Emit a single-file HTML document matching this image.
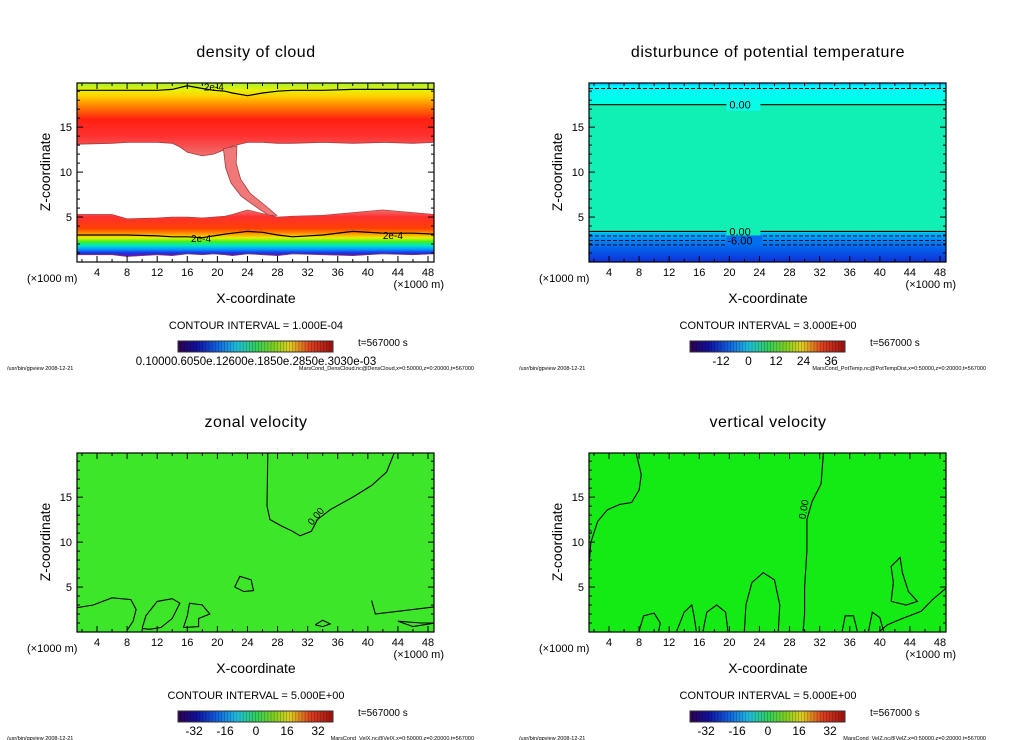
<!DOCTYPE html>
<html><head><meta charset="utf-8"><style>
html,body{margin:0;padding:0;background:#fff;width:1024px;height:740px;overflow:hidden}
svg{display:block}
text{font-family:"Liberation Sans",sans-serif;fill:#000}
</style></head><body>
<svg id="fig" width="1024" height="740" viewBox="0 0 1024 740">
<defs>
<linearGradient id="gCloud" x1="0" y1="0" x2="0" y2="1">
<stop offset="0" stop-color="#a8f030"/><stop offset="0.1" stop-color="#e8f000"/><stop offset="0.18" stop-color="#ffd000"/>
<stop offset="0.32" stop-color="#ff8000"/><stop offset="0.5" stop-color="#ff2010"/><stop offset="0.72" stop-color="#ff3030"/>
<stop offset="1" stop-color="#f07070"/></linearGradient>
<linearGradient id="gCloudLow" x1="0" y1="0" x2="0" y2="1">
<stop offset="0" stop-color="#f07070"/><stop offset="0.15" stop-color="#ff3030"/><stop offset="0.4" stop-color="#ff4000"/>
<stop offset="0.52" stop-color="#ffa000"/><stop offset="0.6" stop-color="#e8f000"/><stop offset="0.68" stop-color="#40f020"/>
<stop offset="0.76" stop-color="#00e8c0"/><stop offset="0.84" stop-color="#00a0ff"/><stop offset="0.92" stop-color="#2030e0"/>
<stop offset="1" stop-color="#6010c0"/></linearGradient>
<linearGradient id="gRain" x1="0" y1="0" x2="1" y2="0">
<stop offset="0" stop-color="#300050"/><stop offset="0.12" stop-color="#1010a0"/><stop offset="0.25" stop-color="#1060e0"/>
<stop offset="0.38" stop-color="#20c0e0"/><stop offset="0.5" stop-color="#30d060"/><stop offset="0.62" stop-color="#80d020"/>
<stop offset="0.72" stop-color="#e0d020"/><stop offset="0.85" stop-color="#e04020"/><stop offset="1" stop-color="#a01010"/></linearGradient>
<linearGradient id="gTempLow" x1="0" y1="0" x2="0" y2="1">
<stop offset="0" stop-color="#00b8ff"/><stop offset="0.4" stop-color="#0070f0"/><stop offset="1" stop-color="#1030d8"/></linearGradient>
<linearGradient id="gTempTop" x1="0" y1="0" x2="0" y2="1">
<stop offset="0" stop-color="#00b0ff"/><stop offset="0.15" stop-color="#00f8ff"/><stop offset="1" stop-color="#00ffe0"/></linearGradient>
</defs>
</svg>
<script>
// ===== data =====
const xTicks=[4,8,12,16,20,24,28,32,36,40,44,48];
const zTicks=[5,10,15];
const titles=["density of cloud","disturbunce of potential temperature","zonal velocity","vertical velocity"];
const intervals=["1.000E-04","3.000E+00","5.000E+00","5.000E+00"];
const cbarLabels1=["0.10000.6050e.12600e.1850e.2850e.3030e-03"];
const cbarLabels2=["-12","0","12","24","36"];
const cbarLabels3=["-32","-16","0","16","32"];
const footers=["MarsCond_DensCloud.nc@DensCloud,x=0:50000,z=0:20000,t=567000","MarsCond_PotTemp.nc@PotTempDist,x=0:50000,z=0:20000,t=567000","MarsCond_VelX.nc@VelX,x=0:50000,z=0:20000,t=567000","MarsCond_VelZ.nc@VelZ,x=0:50000,z=0:20000,t=567000"];
// cloud layer boundaries (z, km) along x
const cloudX=[1.3,6,8,12,14,15,16,18,19.5,21,22,24,26,28,30,34,38,42,46,48.8];
const cloudTopEdge=[13.1,13.2,13.3,13.3,13.2,12.8,12.2,11.8,12.0,12.5,12.9,13.3,13.3,13.2,13.2,13.3,13.2,13.3,13.2,13.3];
const cloudLowTop=[5.3,5.3,4.8,4.9,5.0,5.0,5.0,4.9,5.0,5.1,5.3,5.8,5.4,5.0,5.1,5.2,5.5,5.8,5.5,5.3];
const cloudLowBot=[0.8,0.8,0.6,0.8,0.7,0.8,0.9,0.8,0.9,0.8,0.7,0.9,0.8,0.7,0.9,0.8,0.7,0.9,0.8,0.9];
const cloudContTop=[19.1,19.1,19.1,19.1,19.2,19.4,19.6,19.3,19.1,19.0,18.8,18.5,18.8,19.0,19.1,19.1,19.2,19.2,19.2,19.2];
const cloudContLow=[3.0,3.0,3.0,2.9,2.8,2.8,2.8,2.7,2.9,3.1,3.2,3.4,3.3,3.0,2.8,3.0,3.4,3.2,3.2,3.1];
const funnelLeft=[[20.8,12.6],[21.1,10.5],[21.8,8.8],[23.2,7.3],[25.2,6.1],[26.8,5.2]];
const funnelRight=[[27.9,5.2],[26.2,6.4],[24.4,7.6],[23.1,9.2],[22.5,11],[22.6,12.9]];
// potential temperature contour levels
const ptSolid=[17.5,3.4];
const ptDashed=[19.3,2.9,2.4,1.9];
// zonal velocity contours
const zonalLines=[
 [[26.7,19.9],[26.6,14],[27,12.5],[28.5,11.8],[30,11.2],[31,10.7],[32.5,11.2],[33.3,12.5],[35,13.6],[38,15],[40.5,16.3],[42.5,17.8],[43.5,19.9]],
 [[1.3,2.7],[3.5,3.0],[6,3.8],[8.5,3.6],[9.2,2.5],[8.8,1.2],[8,0.2]],
 [[10,0.4],[10.5,1.8],[12,3.4],[14,3.7],[15,3.2],[14,1.5],[12.5,0.5],[11,0.3],[10,0.4]],
 [[15.5,0.5],[16,1.8],[16.3,3.2],[18,3.0],[19,2.0],[17.5,1.5],[17.5,0.6],[15.5,0.5]],
 [[22.3,5.0],[23,6.2],[24.5,5.8],[24.8,4.6],[23.5,4.5],[22.3,5.0]],
 [[33,0.8],[34,1.3],[35,0.9],[34,0.6],[33,0.8]],
 [[40.5,3.5],[41,2.0],[44,2.3],[49,2.8]],
 [[44,1.2],[47,1.0],[49,1.0],[46,0.6],[44,1.2]]];
// vertical velocity contours
const vertLines=[
 [[1.3,7],[1.6,10],[2.5,12.3],[3.8,13.6],[5.5,14.2],[7,14.4],[8,15.8],[8.3,17.5],[7.6,19.9]],
 [[32.5,19.9],[32.2,16.5],[31,14.5],[30.3,12.5],[30.3,9],[30,5],[30,2],[29.8,0.1]],
 [[22,0.1],[22.2,3],[23,5.5],[24.5,6.6],[26,5.8],[26.7,3],[26.5,0.1]],
 [[41.5,3.4],[41.8,5.5],[41.5,7.3],[42.7,8.3],[43,6.6],[43.8,4.5],[45,3.4],[43.5,3.0],[41.5,3.4]],
 [[49,5],[47,3.6],[45.5,2.3],[43,1.5],[41,0.8],[40,0.1]],
 [[8,0.1],[8.6,1.8],[10,2.1],[10.8,1.0],[10.6,0.1]],
 [[13,0.1],[14,2.2],[15,3.0],[15.3,1.8],[15.6,0.1]],
 [[16.5,0.1],[17,2.2],[18.3,3.0],[19.5,2.2],[19.8,0.1]],
 [[35,0.1],[35.4,1.8],[36.5,1.8],[37,0.1]],
 [[38.5,0.1],[39,2.2],[40,1.6],[40.5,0.1]]];

// ===== helpers =====
const svg=document.getElementById('fig');
const NS='http://www.w3.org/2000/svg';
function mk(tag,attrs,parent){const e=document.createElementNS(NS,tag);for(const k in attrs)e.setAttribute(k,attrs[k]);(parent||svg).appendChild(e);return e;}
function panel(ox,oy){
 return {x:v=>ox+20+(v-4)*7.523, y:z=>oy+179-z*8.99, L:ox, T:oy, R:ox+357, B:oy+179};
}
const P=[panel(77,83),panel(589,83),panel(77,453),panel(589,453)];
function pts(p,arr){return arr.map(a=>p.x(a[0]).toFixed(1)+','+p.y(a[1]).toFixed(1)).join(' ');}
function zip(xs,zs){return xs.map((v,i)=>[v,zs[i]]);}

function frame(p,i){
 const g=mk('g',{});
 
 
 mk('rect',{x:p.L,y:p.T,width:357,height:179,fill:'none',stroke:'#000','stroke-width':1.2},g);
 for(let v=2;v<=48;v+=2){const X=p.x(v);const len=(v%4===0)?6:3;
  mk('line',{x1:X,y1:p.B,x2:X,y2:p.B-len,stroke:'#000'},g);mk('line',{x1:X,y1:p.T,x2:X,y2:p.T+len,stroke:'#000'},g);}
 for(let z=1;z<=19;z++){const Y=p.y(z);const len=(z%5===0)?6:3;
  mk('line',{x1:p.L,y1:Y,x2:p.L+len,y2:Y,stroke:'#000'},g);mk('line',{x1:p.R,y1:Y,x2:p.R-len,y2:Y,stroke:'#000'},g);}
 xTicks.forEach(v=>{const t=mk('text',{x:p.x(v),y:p.B+14,'font-size':11,'text-anchor':'middle'},g);t.textContent=v;
  });
 zTicks.forEach(z=>{const t=mk('text',{x:p.L-5,y:p.y(z)+4,'font-size':11,'text-anchor':'end'},g);t.textContent=z;
  });
 let t=mk('text',{x:p.L-50,y:p.B+20,'font-size':11},g);t.textContent='(×1000 m)';
 
 t=mk('text',{x:p.R+10,y:p.B+26,'font-size':11,'text-anchor':'end'},g);t.textContent='(×1000 m)';
 
 t=mk('text',{x:p.L+179,y:p.B+41,'font-size':14,'text-anchor':'middle'},g);t.textContent='X-coordinate';
 
 t=mk('text',{x:0,y:0,'font-size':14,'text-anchor':'middle',transform:`translate(${p.L-27},${p.T+89}) rotate(-90)`},g);t.textContent='Z-coordinate';
 
 t=mk('text',{x:p.L+179,y:p.T-26,'font-size':16,'text-anchor':'middle','letter-spacing':'0.5'},g);t.textContent=titles[i];
 
 const cx=p.L+101, cy=p.B+79;
 t=mk('text',{x:cx+78,y:cy-12,'font-size':11,'text-anchor':'middle'},g);t.textContent='CONTOUR INTERVAL = '+intervals[i];
 
 const cb=mk('rect',{x:cx,y:cy,width:155,height:11,fill:'url(#gRain)',stroke:'#333'},g);
 
 for(let k=1;k<50;k++){mk('line',{x1:cx+k*3.1,y1:cy,x2:cx+k*3.1,y2:cy+11,stroke:'#000','stroke-opacity':0.35,'stroke-width':0.6},g);}
 t=mk('text',{x:cx+180,y:cy+5,'font-size':10,fill:'#555'},g);t.textContent='t=567000  s';
 
 let labs=i===0?cbarLabels1:(i===1?cbarLabels2:cbarLabels3);
 if(i===0){t=mk('text',{x:cx+78,y:cy+24,'font-size':11.5,'text-anchor':'middle'},g);t.textContent=labs[0];
  }
 else labs.forEach((s,k)=>{t=mk('text',{x:cx+(i===1?31:16)+k*(i===1?27.5:31),y:cy+24,'font-size':12,'text-anchor':'middle'},g);t.textContent=s;
  });
 t=mk('text',{x:p.L-70,y:cy+29,'font-size':5.5,fill:'#333'},g);t.textContent='/usr/bin/gpview   2008-12-21';
 
 t=mk('text',{x:p.R+40,y:cy+29,'font-size':5.5,'text-anchor':'end',fill:'#333'},g);t.textContent=footers[i];
 
}

function clipFor(p,id){const c=mk('clipPath',{id:id});mk('rect',{x:p.L,y:p.T,width:357,height:179},c);return 'url(#'+id+')';}

// ===== panel 1: density of cloud =====
(function(){const p=P[0];const g=mk('g',{'clip-path':clipFor(p,'c1')});
 
 const top=zip(cloudX,cloudTopEdge);
 mk('polygon',{points:pts(p,[[1.3,19.9],[48.8,19.9]])+' '+pts(p,top.slice().reverse()),fill:'url(#gCloud)'},g);
 mk('polyline',{points:pts(p,top),fill:'none',stroke:'#a04040','stroke-width':0.8},g);
 const fun=funnelLeft.concat(funnelRight);
 const f=mk('polygon',{points:pts(p,fun),fill:'#f07878',stroke:'#a04040','stroke-width':0.8},g);
 
 const lt=zip(cloudX,cloudLowTop),lb=zip(cloudX,cloudLowBot);
 mk('polygon',{points:pts(p,lt)+' '+pts(p,lb.slice().reverse()),fill:'url(#gCloudLow)',stroke:'#a04040','stroke-width':0.6},g);
 const c1=mk('polyline',{points:pts(p,zip(cloudX,cloudContTop)),fill:'none',stroke:'#000','stroke-width':1.2},g);
 
 const c2=mk('polyline',{points:pts(p,zip(cloudX,cloudContLow)),fill:'none',stroke:'#000','stroke-width':1.2},g);
 
 [[18.2,19.4],[16.5,2.55],[42,2.9]].forEach(a=>{
  const t=mk('text',{x:p.x(a[0]),y:p.y(a[1])+3,'font-size':10},g);t.textContent='2e-4';
  });
})();

// ===== panel 2: potential temperature =====
(function(){const p=P[1];const g=mk('g',{'clip-path':clipFor(p,'c2')});
 
 mk('rect',{x:p.L,y:p.T,width:357,height:179,fill:'#10f0b4'},g);
 mk('rect',{x:p.L,y:p.T,width:357,height:p.y(17.5)-p.T,fill:'url(#gTempTop)'},g);
 mk('rect',{x:p.L,y:p.y(3.3),width:357,height:p.B-p.y(3.3),fill:'url(#gTempLow)'},g);
 ptSolid.forEach(z=>{const l=mk('line',{x1:p.L,x2:p.R,y1:p.y(z),y2:p.y(z),stroke:'#000','stroke-width':1.2},g);
  
  mk('rect',{x:p.x(20)-3,y:p.y(z)-6,width:34,height:12,fill:z>10?'#08fce8':'#10f0b4'},g);
  const t=mk('text',{x:p.x(20),y:p.y(z)+4,'font-size':11},g);t.textContent='0.00';
  });
 ptDashed.forEach(z=>{const l=mk('line',{x1:p.L,x2:p.R,y1:p.y(z),y2:p.y(z),stroke:'#000','stroke-width':0.9,'stroke-dasharray':'4,2'},g);
  });
 mk('rect',{x:p.x(20)-3,y:p.y(2.4)-5,width:36,height:10,fill:'#0070f0'},g);
 const t=mk('text',{x:p.x(20)-2,y:p.y(2.4)+4,'font-size':11},g);t.textContent='-6.00';
 
})();

// ===== panels 3,4: velocities =====
function velPanel(p,id,lines,labels,nm){const g=mk('g',{'clip-path':clipFor(p,id)});
 
 mk('rect',{x:p.L,y:p.T,width:357,height:179,fill:id==='c3'?'#3ee62a':'#14ea14'},g);
 lines.forEach(l=>{const e=mk('polyline',{points:pts(p,l),fill:'none',stroke:'#000','stroke-width':1.1},g);
  });
 labels.forEach(a=>{const t=mk('text',{x:0,y:0,'font-size':10,transform:`translate(${p.x(a[0])},${p.y(a[1])}) rotate(${a[2]})`},g);t.textContent='0.00';
  });
}
velPanel(P[2],'c3',zonalLines,[[32.6,11.8,-50]],'zonal-velocity-field');
velPanel(P[3],'c4',vertLines,[[1.1,9.3,-75],[30.1,12.5,-80]],'vertical-velocity-field');

P.forEach((p,i)=>frame(p,i));
</script>
</body></html>
